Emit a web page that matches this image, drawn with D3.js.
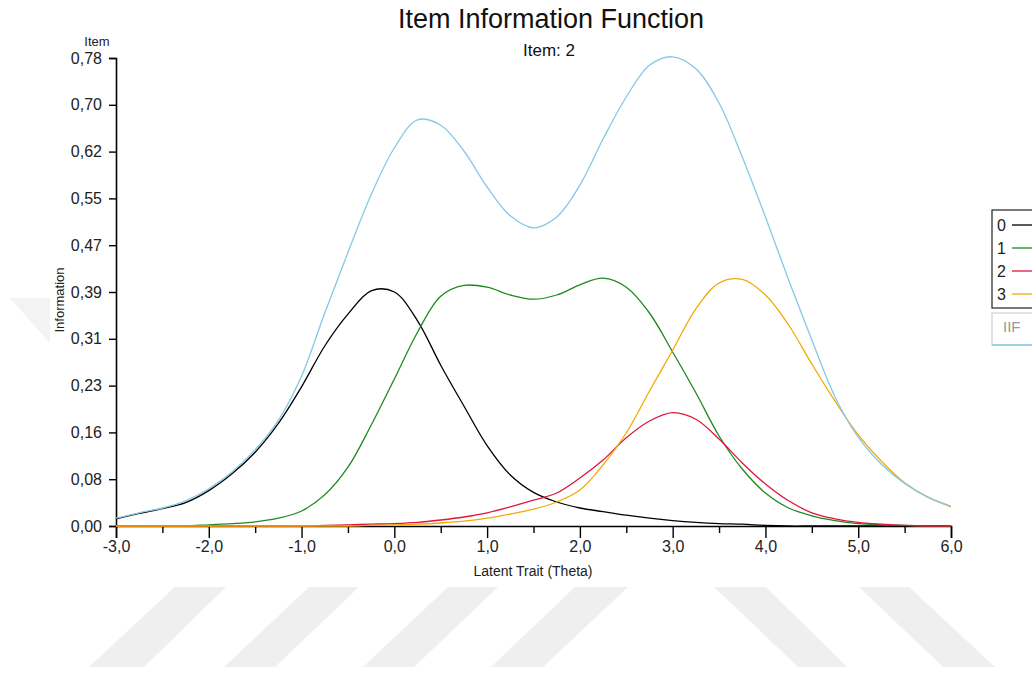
<!DOCTYPE html>
<html>
<head>
<meta charset="utf-8">
<script src="https://cdn.jsdelivr.net/npm/d3@7"></script>
<style>
body { margin: 0; background: #fff; }
text { font-family: "Liberation Sans", Arial, sans-serif; fill: #222; }
</style>
</head>
<body>
<svg width="1032" height="673"></svg>
<script>
// theta grid
var theta = [-3.0, -2.75, -2.5, -2.25, -2.0, -1.75, -1.5, -1.25, -1.0, -0.75, -0.5, -0.25,
	0.0, 0.25, 0.5, 0.75, 1.0, 1.25, 1.5, 1.75, 2.0, 2.25, 2.5, 2.75,
	3.0, 3.25, 3.5, 3.75, 4.0, 4.25, 4.5, 4.75, 5.0, 5.25, 5.5, 5.75, 6.0];

// category information curves
var cat0 = [0.012, 0.021, 0.029, 0.039, 0.059, 0.087, 0.123, 0.171, 0.232, 0.300, 0.353, 0.392,
	0.390, 0.342, 0.268, 0.200, 0.134, 0.085, 0.056, 0.040, 0.030, 0.024, 0.018, 0.013,
	0.009, 0.006, 0.004, 0.003, 0.001, 0, 0, 0, 0, 0, 0, 0, 0];
var cat1 = [0, 0, 0, 0, 0.002, 0.004, 0.007, 0.013, 0.025, 0.052, 0.098, 0.168,
	0.245, 0.323, 0.383, 0.401, 0.398, 0.385, 0.378, 0.385, 0.402, 0.413, 0.398, 0.355,
	0.290, 0.222, 0.150, 0.095, 0.055, 0.030, 0.017, 0.009, 0.004, 0.002, 0.001, 0, 0];
var cat2 = [0, 0, 0, 0, 0, 0, 0, 0, 0, 0.001, 0.002, 0.003,
	0.004, 0.006, 0.010, 0.015, 0.022, 0.032, 0.043, 0.055, 0.080, 0.110, 0.147, 0.175,
	0.189, 0.178, 0.145, 0.105, 0.070, 0.042, 0.022, 0.012, 0.006, 0.003, 0.001, 0, 0];
var cat3 = [0, 0, 0, 0, 0, 0, 0, 0, 0, 0, 0, 0.001,
	0.002, 0.003, 0.005, 0.008, 0.013, 0.020, 0.028, 0.040, 0.060, 0.102, 0.155, 0.225,
	0.293, 0.362, 0.405, 0.411, 0.385, 0.335, 0.270, 0.208, 0.152, 0.108, 0.072, 0.048, 0.032];
var iif = [0.013, 0.022, 0.030, 0.042, 0.062, 0.090, 0.127, 0.176, 0.250, 0.355, 0.456, 0.552,
	0.630, 0.677, 0.668, 0.625, 0.565, 0.517, 0.497, 0.515, 0.568, 0.645, 0.715, 0.768,
	0.782, 0.762, 0.705, 0.615, 0.515, 0.410, 0.310, 0.215, 0.148, 0.103, 0.071, 0.048, 0.033];

var xTicks = [-3, -2, -1, 0, 1, 2, 3, 4, 5, 6];
var xTickLabels = ["-3,0", "-2,0", "-1,0", "0,0", "1,0", "2,0", "3,0", "4,0", "5,0", "6,0"];
var xMinor = [-2.5, -1.5, -0.5, 0.5, 1.5, 2.5, 3.5, 4.5, 5.5];
var yTicks = [0, 0.078, 0.156, 0.234, 0.312, 0.39, 0.468, 0.546, 0.624, 0.702, 0.78];
var yTickLabels = ["0,00", "0,08", "0,16", "0,23", "0,31", "0,39", "0,47", "0,55", "0,62", "0,70", "0,78"];
var legendNames = ["0", "1", "2", "3"];

var colors = ["#000000", "#1e8a1e", "#e0153c", "#f2ab00"];
var iifColor = "#86c8e6";

var svg = d3.select("svg"),
	plotLeft = 116, plotRight = 951, plotTop = 58, plotBottom = 526;

// watermark stripes
var wm = svg.append("g").attr("fill", "#efefef");
[[175, 226, 144, 89], [309, 359, 275, 224], [448, 498, 414, 363], [575, 628, 543, 491]].forEach(function(s) {
	wm.append("polygon").attr("points", s[0] + ",587 " + s[1] + ",587 " + s[2] + ",667 " + s[3] + ",667");
});
[[714, 766, 847, 798], [859, 909, 995, 943]].forEach(function(s) {
	wm.append("polygon").attr("points", s[0] + ",587 " + s[1] + ",587 " + s[2] + ",667 " + s[3] + ",667");
});
wm.append("polygon").attr("points", "10,298 50,298 50,343").attr("fill", "#f3f3f3");

var x = d3.scaleLinear().domain([-3, 6]).range([plotLeft, plotRight]);
var y = d3.scaleLinear().domain([0, 0.78]).range([plotBottom, plotTop]);

// title
svg.append("text").attr("x", 551).attr("y", 28).attr("text-anchor", "middle")
	.style("font-size", "27px").style("fill", "#111").text("Item Information Function");
svg.append("text").attr("x", 549).attr("y", 56).attr("text-anchor", "middle")
	.style("font-size", "17px").style("fill", "#111").text("Item: 2");

// axes
svg.append("g").attr("transform", "translate(0," + plotBottom + ")")
	.call(d3.axisBottom(x).tickValues(xTicks).tickSize(12).tickPadding(3)
		.tickFormat(function(d, i) { return xTickLabels[i]; }));
svg.append("g").attr("transform", "translate(0," + plotBottom + ")")
	.call(d3.axisBottom(x).tickValues(xMinor).tickSize(7).tickFormat(""))
	.select(".domain").remove();
svg.append("g").attr("transform", "translate(" + plotLeft + ",0)")
	.call(d3.axisLeft(y).tickValues(yTicks).tickSize(7).tickPadding(7)
		.tickFormat(function(d, i) { return yTickLabels[i]; }));
svg.selectAll(".domain").attr("stroke", "#000").attr("stroke-width", 1.6);
svg.selectAll(".tick line").attr("stroke", "#000").attr("stroke-width", 1.4);
svg.selectAll(".tick text").style("font-size", "16px").style("fill", "#222");

svg.append("text").attr("x", 97).attr("y", 46).attr("text-anchor", "middle")
	.style("font-size", "13px").text("Item");
svg.append("text").attr("transform", "translate(64,300) rotate(-90)").attr("text-anchor", "middle")
	.style("font-size", "13px").text("Information");
svg.append("text").attr("x", 533).attr("y", 576).attr("text-anchor", "middle")
	.style("font-size", "14px").text("Latent Trait (Theta)");

// curves
var line = d3.line()
	.x(function(d) { return x(d[0]); })
	.y(function(d) { return y(Math.max(0, d[1])); })
	.curve(d3.curveCatmullRom.alpha(0.5));

function pts(vals) { return theta.map(function(t, i) { return [t, vals[i]]; }); }

var series = [cat0, cat1, cat2, cat3];
series.forEach(function(s, i) {
	svg.append("path").datum(pts(s)).attr("fill", "none")
		.attr("stroke", colors[i]).attr("stroke-width", 1.3).attr("d", line);
});
svg.append("path").datum(pts(iif)).attr("fill", "none")
	.attr("stroke", iifColor).attr("stroke-width", 1.3).attr("d", line);

// legend
var leg = svg.append("g");
leg.append("rect").attr("x", 992).attr("y", 210).attr("width", 60).attr("height", 98)
	.attr("fill", "#fff").attr("stroke", "#222").attr("stroke-width", 1.2);
legendNames.forEach(function(n, i) {
	var ly = 225 + i * 23;
	leg.append("text").attr("x", 997).attr("y", ly + 6).style("font-size", "16px").text(n);
	leg.append("line").attr("x1", 1012).attr("x2", 1032).attr("y1", ly).attr("y2", ly)
		.attr("stroke", colors[i]).attr("stroke-width", 1.3);
});
leg.append("rect").attr("x", 992).attr("y", 313).attr("width", 60).attr("height", 32)
	.attr("fill", "#fff").attr("stroke", "#c8c8c8").attr("stroke-width", 1);
leg.append("text").attr("x", 1003).attr("y", 332).style("font-size", "15px")
	.style("fill", "#999").text("IIF");
leg.append("line").attr("x1", 992).attr("x2", 1032).attr("y1", 345).attr("y2", 345)
	.attr("stroke", iifColor).attr("stroke-width", 1.3);
</script>
</body>
</html>
